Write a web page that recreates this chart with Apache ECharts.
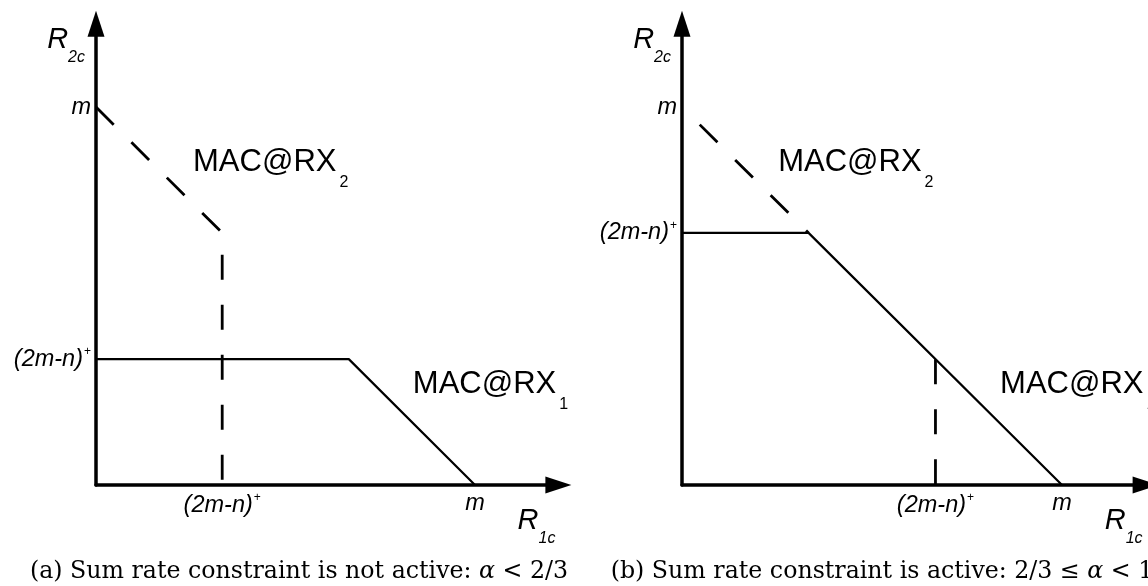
<!DOCTYPE html>
<html>
<head>
<meta charset="utf-8">
<script src="https://cdn.jsdelivr.net/npm/echarts@6/dist/echarts.min.js"></script>
<style>
html,body{margin:0;padding:0;background:#fff;}
#chart{width:1148px;height:586px;}
</style>
</head>
<body>
<div id="chart"></div>
<script>
// ---- data (m = 1) ----
const leftRx1 = [[0, 0.333], [0.667, 0.333], [1, 0]];
const leftRx2 = [[0, 1], [0.333, 0.667], [0.333, 0]];
const rightRx1 = [[0, 0.667], [0.333, 0.667], [1, 0]];
const rightRx2 = [[0, 1], [0.333, 0.667]];
const rightRx2Drop = [[0.667, 0.333], [0.667, 0]];

const leftXTicks = [0.333, 1];
const leftXTickLabels = ['(2m-n)+', 'm'];
const leftYTicks = [0.333, 1];
const leftYTickLabels = ['(2m-n)+', 'm'];
const rightXTicks = [0.667, 1];
const rightXTickLabels = ['(2m-n)+', 'm'];
const rightYTicks = [0.667, 1];
const rightYTickLabels = ['(2m-n)+', 'm'];

const seriesNames = ['MAC@RX1', 'MAC@RX2'];
const captions = [
  '(a) Sum rate constraint is not active: ',
  '(b) Sum rate constraint is active: '
];

// ---- styling helpers ----
const SANS = '"Liberation Sans", Arial, sans-serif';
const SERIF = '"DejaVu Serif", "Liberation Serif", serif';
const AXMAX = 1.22;
const CAP = 23.7;

function tickFormatter(ticks, labels) {
  return function (v) {
    for (let i = 0; i < ticks.length; i++) {
      if (Math.abs(ticks[i] - v) < 1e-6) {
        const s = labels[i];
        if (s.endsWith('+')) return '{i|' + s.slice(0, -1) + '}{sup|+}';
        return '{i|' + s + '}';
      }
    }
    return '';
  };
}
const tickRich = {
  i: { fontFamily: SANS, fontStyle: 'italic', fontSize: 23.5, color: '#000' },
  sup: { fontFamily: SANS, fontStyle: 'normal', fontSize: 12, color: '#000', padding: [0, 0, 15, 1] }
};
const nameRich = {
  R: { fontFamily: SANS, fontStyle: 'italic', fontSize: 29, color: '#000' },
  s: { fontFamily: SANS, fontStyle: 'italic', fontSize: 16, color: '#000', padding: [36, 0, 0, 0] }
};
const macRich = {
  a: { fontFamily: SANS, fontSize: 31, color: '#000' },
  s: { fontFamily: SANS, fontSize: 16, color: '#000', padding: [40, 0, 0, 3] }
};
function macLabel(name) {
  return '{a|' + name.slice(0, -1) + '}{s|' + name.slice(-1) + '}';
}

function axisCommon() {
  return {
    type: 'value', min: 0, max: AXMAX,
    splitLine: { show: false },
    axisTick: { show: false },
    axisLine: {
      show: true, onZero: false,
      lineStyle: { color: '#000', width: 3.5 },
      symbol: ['none', 'triangle'],
      symbolSize: [17, 26]
    }
  };
}
function xAxis(gi, ticks, labels) {
  return Object.assign(axisCommon(), {
    gridIndex: gi,
    name: '{R|R}{s|1c}',
    nameLocation: 'end',
    nameGap: -3,
    nameTextStyle: { align: 'right', verticalAlign: 'top', padding: [10, 0, 0, 0], rich: nameRich },
    axisLabel: {
      show: true, margin: 7,
      customValues: ticks,
      formatter: tickFormatter(ticks, labels),
      rich: tickRich
    }
  });
}
function yAxis(gi, ticks, labels) {
  return Object.assign(axisCommon(), {
    gridIndex: gi,
    name: '{R|R}{s|2c}',
    nameLocation: 'end',
    nameGap: 10,
    nameTextStyle: { align: 'right', verticalAlign: 'top', padding: [0, 11, 0, 0], rich: nameRich },
    axisLabel: {
      show: true, margin: 5,
      customValues: ticks,
      formatter: tickFormatter(ticks, labels),
      rich: tickRich
    }
  });
}
function solid(gi, data, labelCoord) {
  return {
    type: 'line', xAxisIndex: gi, yAxisIndex: gi, data: data,
    symbol: 'none', silent: true, z: 3,
    lineStyle: { color: '#000', width: 2.2, type: 'solid' },
    markPoint: {
      silent: true, symbol: 'circle', symbolSize: 0, animation: false,
      label: { show: true, position: 'right', distance: 0, formatter: macLabel(seriesNames[0]), rich: macRich },
      data: [{ coord: labelCoord }]
    }
  };
}
function dashed(gi, data, offset, labelCoord) {
  const s = {
    type: 'line', xAxisIndex: gi, yAxisIndex: gi, data: data,
    symbol: 'none', silent: true, z: 2,
    lineStyle: { color: '#000', width: 2.8, type: [25, 25], dashOffset: offset || 0 }
  };
  if (labelCoord) {
    s.markPoint = {
      silent: true, symbol: 'circle', symbolSize: 0, animation: false,
      label: { show: true, position: 'right', distance: 0, formatter: macLabel(seriesNames[1]), rich: macRich },
      data: [{ coord: labelCoord }]
    };
  }
  return s;
}
function captionStyle() {
  return { fontFamily: SERIF, fontSize: CAP, fontWeight: 'normal', color: '#000',
    rich: { m: { fontFamily: SERIF, fontStyle: 'italic', fontSize: CAP, color: '#000' },
            t: { fontFamily: SERIF, fontSize: CAP, color: '#000' } } };
}

const chart = echarts.init(document.getElementById('chart'), null, { renderer: 'canvas' });
chart.setOption({
  animation: false,
  backgroundColor: '#fff',
  title: [
    { text: captions[0] + '{m|α}{t| < 2/3}', left: 294, top: 555, textAlign: 'center', textStyle: captionStyle() },
    { text: captions[1] + '{t|2/3 ≤ }{m|α}{t| < 1}', left: 877, top: 555, textAlign: 'center', textStyle: captionStyle() }
  ],
  grid: [
    { left: 96, top: 485 - AXMAX * 378, width: AXMAX * 379, height: AXMAX * 378 },
    { left: 682, top: 485 - AXMAX * 378, width: AXMAX * 380, height: AXMAX * 378 }
  ],
  xAxis: [xAxis(0, leftXTicks, leftXTickLabels), xAxis(1, rightXTicks, rightXTickLabels)],
  yAxis: [yAxis(0, leftYTicks, leftYTickLabels), yAxis(1, rightYTicks, rightYTickLabels)],
  series: [
    solid(0, leftRx1, [0.836, 0.265]),
    dashed(0, leftRx2, 0, [0.256, 0.852]),
    solid(1, rightRx1, [0.837, 0.265]),
    dashed(1, rightRx2, 25, [0.253, 0.852]),
    dashed(1, rightRx2Drop, 0)
  ]
});
</script>
</body>
</html>
